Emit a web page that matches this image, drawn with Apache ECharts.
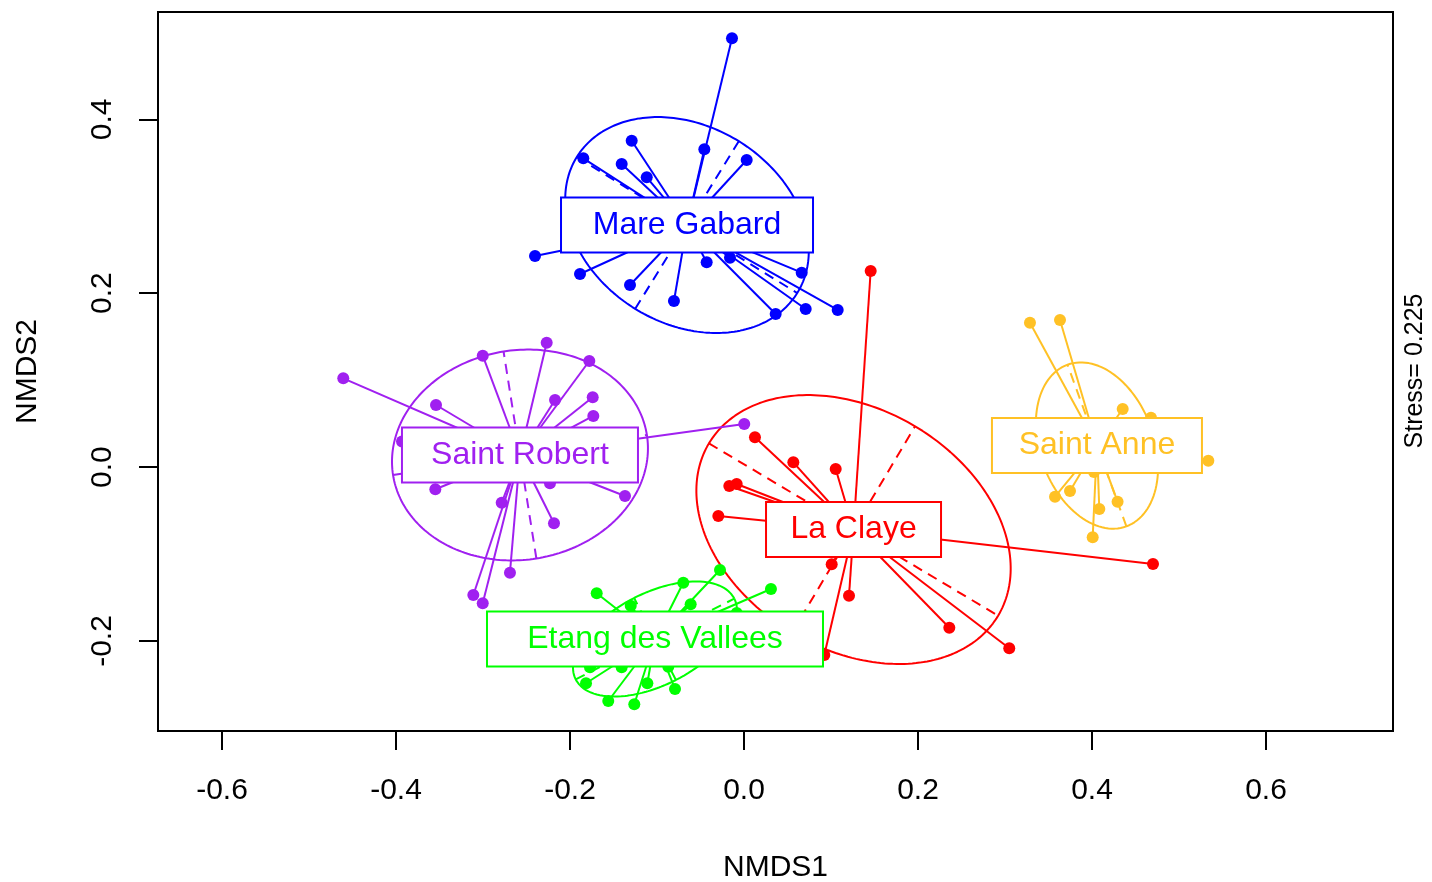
<!DOCTYPE html>
<html><head><meta charset="utf-8">
<script src="https://cdn.jsdelivr.net/npm/echarts@6/dist/echarts.min.js"></script>
<style>html,body{margin:0;padding:0;background:#fff}#c{width:1432px;height:882px}</style>
</head><body><div id="c"></div>
<script>
// ---------- data ----------
const groups = ['Mare Gabard', 'Saint Robert', 'Etang des Vallees', 'La Claye', 'Saint Anne'];
const xTicks = [-0.6, -0.4, -0.2, 0, 0.2, 0.4, 0.6];
const yTicks = [-0.2, 0, 0.2, 0.4];
const xTitle = 'NMDS1';
const yTitle = 'NMDS2';
const stressText = 'Stress= 0.225';

const centroids = [[-0.0655, 0.2784], [-0.2575, 0.0139], [-0.1023, -0.1977], [0.1259, -0.0718], [0.4057, 0.0248]];

const ptsMareGabard = [[-0.0138,0.4932],[-0.0456,0.3655],[0.0031,0.3532],[-0.1291,0.3754],[-0.1847,0.3551],[-0.1406,0.3486],[-0.1118,0.3333],[-0.2402,0.2428],[-0.1885,0.2221],[-0.1310,0.2094],[-0.0805,0.1910],[-0.0429,0.2355],[-0.0161,0.2408],[0.0663,0.2236],[0.0364,0.1761],[0.0709,0.1818],[0.1077,0.1807]];
const ptsSaintRobert = [[-0.4606,0.1021],[-0.3003,0.1281],[-0.2268,0.1431],[-0.1778,0.1220],[-0.3540,0.0714],[-0.2172,0.0772],[-0.1739,0.0803],[-0.1732,0.0588],[-0.3931,0.0294],[-0.3548,-0.0255],[-0.2230,-0.0186],[-0.1368,-0.0332],[-0.2785,-0.0409],[-0.2184,-0.0646],[-0.2690,-0.1214],[-0.3111,-0.1471],[-0.3003,-0.1566],[0.0003,0.0496]];
const ptsEtang = [[-0.1693,-0.1451],[-0.1302,-0.1594],[-0.0698,-0.1330],[-0.0276,-0.1183],[-0.0613,-0.1578],[0.0310,-0.1402],[-0.0084,-0.1678],[-0.1770,-0.2302],[-0.1406,-0.2302],[-0.1816,-0.2486],[-0.1560,-0.2690],[-0.1261,-0.2728],[-0.1111,-0.2486],[-0.0793,-0.2552],[-0.0870,-0.2296]];
const ptsLaClaye = [[0.1456,0.2255],[0.0126,0.0343],[0.0567,0.0055],[0.1054,-0.0022],[-0.0169,-0.0217],[-0.0084,-0.0194],[-0.0295,-0.0562],[0.1008,-0.1118],[0.1207,-0.1479],[0.2360,-0.1847],[0.3049,-0.2084],[0.0923,-0.2161],[0.4701,-0.1114]];
const ptsSaintAnne = [[0.3287,0.1661],[0.3632,0.1692],[0.4353,0.0668],[0.4678,0.0568],[0.5337,0.0074],[0.3575,-0.0340],[0.3747,-0.0275],[0.4023,-0.0056],[0.4084,-0.0482],[0.4294,-0.0398],[0.4008,-0.0807]];
const groupPoints = [ptsMareGabard, ptsSaintRobert, ptsEtang, ptsLaClaye, ptsSaintAnne];

// ellipse semi-axes (data units) and orientation of first axis (degrees)
const ellipseSemiAxes = [[0.1489, 0.1133], [0.1477, 0.1205], [0.1023, 0.0529], [0.1935, 0.1382], [0.0989, 0.0655]];
const ellipseAngles = [-31.7, 9, 27, -30.8, 110];

// ---------- style ----------
const colors = ['#0000FF', '#A020F0', '#00FF00', '#FF0000', '#FFC125'];
const labelBoxWidths = [250, 234, 334, 173, 208];
const FONT = "'Liberation Sans', Arial, Helvetica, sans-serif";

const series = [];
groups.forEach((g, i) => {
  const col = colors[i];
  const [cx, cy] = centroids[i];
  const [a, b] = ellipseSemiAxes[i];
  const th = ellipseAngles[i] * Math.PI / 180;
  const ell = [];
  for (let k = 0; k <= 240; k++) {
    const t = k / 240 * 2 * Math.PI;
    ell.push([
      cx + a * Math.cos(t) * Math.cos(th) - b * Math.sin(t) * Math.sin(th),
      cy + a * Math.cos(t) * Math.sin(th) + b * Math.sin(t) * Math.cos(th)
    ]);
  }
  series.push({ type: 'line', data: ell, showSymbol: false, symbol: 'none', smooth: false,
    lineStyle: { color: col, width: 2 }, silent: true, z: 2, animation: false });
  const axA = [[cx - a * Math.cos(th), cy - a * Math.sin(th)], [cx + a * Math.cos(th), cy + a * Math.sin(th)]];
  const axB = [[cx + b * Math.sin(th), cy - b * Math.cos(th)], [cx - b * Math.sin(th), cy + b * Math.cos(th)]];
  series.push({ type: 'lines', coordinateSystem: 'cartesian2d', data: [{ coords: axA }, { coords: axB }],
    lineStyle: { color: col, width: 2, type: [10, 7], opacity: 1 }, silent: true, z: 2, animation: false });
  series.push({ type: 'lines', coordinateSystem: 'cartesian2d',
    data: groupPoints[i].map(p => ({ coords: [[cx, cy], p] })),
    lineStyle: { color: col, width: 2, opacity: 1 }, silent: true, z: 3, animation: false });
  series.push({ type: 'scatter', data: groupPoints[i], symbolSize: 12,
    itemStyle: { color: col, opacity: 1 }, silent: true, z: 4, animation: false });
});

series.push({
  type: 'scatter', z: 10, animation: false, silent: true, symbolSize: 1,
  itemStyle: { color: 'rgba(0,0,0,0)', opacity: 1 },
  data: groups.map((g, i) => ({
    value: centroids[i], name: g,
    label: {
      show: true, position: 'inside', formatter: '{b}', color: colors[i], opacity: 1,
      fontSize: 32, fontFamily: FONT, lineHeight: 31,
      backgroundColor: '#fff', borderColor: colors[i], borderWidth: 2,
      padding: [13, 0, 9, 0], width: labelBoxWidths[i], align: 'center', verticalAlign: 'middle'
    }
  }))
});

const chart = echarts.init(document.getElementById('c'), null, { renderer: 'canvas' });
chart.setOption({
  animation: false,
  backgroundColor: '#fff',
  grid: { left: 158, top: 12, width: 1235, height: 719, containLabel: false, outerBoundsMode: 'none',
    show: true, borderColor: '#000', borderWidth: 2, backgroundColor: 'rgba(0,0,0,0)' },
  xAxis: {
    type: 'value', min: -0.67356, max: 0.74598,
    axisLine: { show: false, onZero: false }, splitLine: { show: false },
    axisTick: { show: true, length: 19, lineStyle: { color: '#000', width: 2 }, customValues: xTicks },
    axisLabel: { customValues: xTicks, fontSize: 30, fontFamily: FONT, color: '#000', margin: 45,
      formatter: v => v.toFixed(1) },
    name: xTitle, nameLocation: 'middle', nameGap: 122, nameMoveOverlap: false,
    nameTextStyle: { fontSize: 30, fontFamily: FONT, color: '#000' }
  },
  yAxis: {
    type: 'value', min: -0.30351, max: 0.52340,
    axisLine: { show: false, onZero: false }, splitLine: { show: false },
    axisTick: { show: true, length: 19, lineStyle: { color: '#000', width: 2 }, customValues: yTicks },
    axisLabel: { customValues: yTicks, fontSize: 30, fontFamily: FONT, color: '#000', margin: 40, rotate: 90,
      formatter: v => v.toFixed(1) },
    name: yTitle, nameLocation: 'middle', nameGap: 115, nameMoveOverlap: false,
    nameTextStyle: { fontSize: 30, fontFamily: FONT, color: '#000' }
  },
  graphic: [{
    type: 'text', x: 1415, y: 371, rotation: Math.PI / 2,
    style: { text: stressText, fontSize: 25, fontFamily: FONT, fill: '#000', align: 'center', verticalAlign: 'middle' }
  }],
  series: series
});
</script>
</body></html>
